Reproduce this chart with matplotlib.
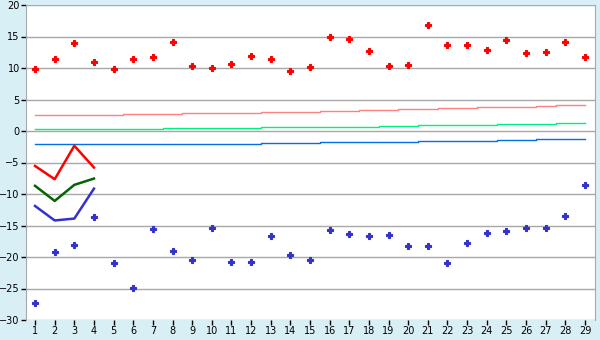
import matplotlib
matplotlib.use("Agg")
import matplotlib.pyplot as plt

days = list(range(1, 30))

# 散点：上方红点、下方蓝点
high_pts = [9.8, 11.5, 13.9, 10.9, 9.8, 11.5, 11.7, 14.1, 10.3, 9.95,
            10.7, 11.85, 11.4, 9.5, 10.1, 14.9, 14.55, 12.65, 10.3, 10.45,
            16.8, 13.6, 13.6, 12.8, 14.4, 12.35, 12.5, 14.1, 11.7]
low_pts = [-27.35, -19.25, -18.15, -13.7, -21.0, -24.95, -15.6, -19.1, -20.5, -15.45,
           -20.85, -20.85, -16.7, -19.7, -20.5, -15.75, -16.4, -16.7, -16.55, -18.3,
           -18.3, -21.0, -17.85, -16.25, -15.9, -15.45, -15.45, -13.55, -8.6]

# 缓慢上升的三条趋势线
trend_pink = [2.49] * 5 + [2.7] * 3 + [2.86] * 4 + [2.97] * 3 + [3.13] * 2 + [3.29] * 2 \
    + [3.44] * 2 + [3.6] * 2 + [3.76] * 3 + [3.92] + [4.08] * 2
trend_green = [0.32] * 7 + [0.48] * 5 + [0.63] * 6 + [0.79] * 2 + [0.95] * 4 \
    + [1.1] * 3 + [1.25] * 2
trend_blue = [-2.12] * 12 + [-1.96] * 3 + [-1.8] * 5 + [-1.64] * 4 + [-1.48] * 2 + [-1.32] * 3

# 前四天的折线
short_days = [1, 2, 3, 4]
short_red = [-5.55, -7.65, -2.35, -5.8]
short_green = [-8.7, -11.1, -8.55, -7.55]
short_blue = [-11.9, -14.2, -13.9, -9.15]

y_ticks = [20, 15, 10, 5, 0, -5, -10, -15, -20, -25, -30]

BG = "#d9eff6"
GRID = "#a8a8a8"

fig = plt.figure(figsize=(6, 3.4), dpi=100, facecolor=BG)
ax = fig.add_axes([26 / 600, 20 / 340, 569 / 600, 315 / 340])
ax.set_facecolor("white")

ax.plot(days, trend_pink, color="#ff8080", lw=1.0, drawstyle="steps-mid")
ax.plot(days, trend_green, color="#00f080", lw=1.0, drawstyle="steps-mid")
ax.plot(days, trend_blue, color="#0070e8", lw=1.0, drawstyle="steps-mid")

ax.plot(short_days, short_red, color="#ff0000", lw=1.8)
ax.plot(short_days, short_green, color="#006600", lw=1.8)
ax.plot(short_days, short_blue, color="#3333cc", lw=1.8)

ax.plot(days, high_pts, ls="none", marker="P", ms=4.2, color="#ff0000", mew=0.8)
ax.plot(days, low_pts, ls="none", marker="P", ms=4.2, color="#3333cc", mew=0.8)

ax.set_xlim(0.54, 29.51)
ax.set_ylim(-30, 20)
ax.set_xticks(days)
ax.set_yticks(y_ticks)
ax.set_yticklabels([str(v).replace("-", "\u2212") for v in y_ticks])
ax.grid(axis="y", color=GRID, lw=1)
ax.set_axisbelow(True)

for side in ["left", "right", "top", "bottom"]:
    ax.spines[side].set_color(GRID)
ax.spines["top"].set_visible(False)
ax.spines["bottom"].set_visible(False)
ax.tick_params(axis="both", colors="black", labelsize=7, length=3.5, width=1, pad=1)

plt.savefig("out.png", dpi=100, facecolor=BG)
